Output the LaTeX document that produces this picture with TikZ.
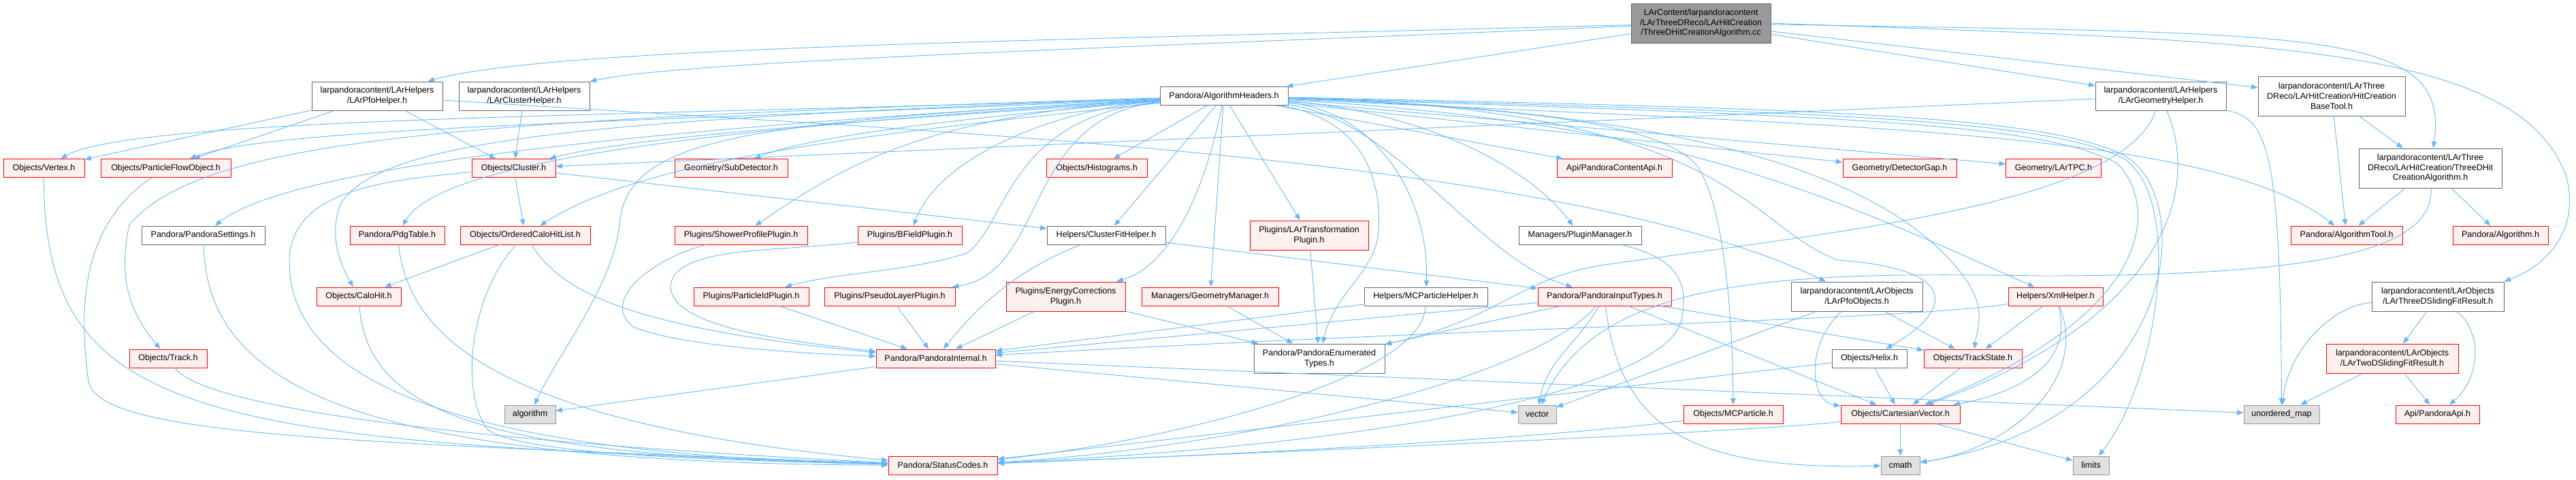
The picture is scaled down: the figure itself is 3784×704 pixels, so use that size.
\documentclass[tikz,border=0pt]{standalone}
\usepackage{fontspec}
\setmainfont{Liberation Sans}
\usetikzlibrary{arrows.meta}
\definecolor{incblue}{HTML}{63B8FF}
\definecolor{redfill}{HTML}{FFF0F0}

\begin{document}
\begin{tikzpicture}[x=1pt,y=-1pt]
\tikzset{filebox/.style={draw, rectangle, line width=1pt, inner sep=0pt, minimum height=27pt, align=center, font=\fontsize{12.5}{14.7}\selectfont}}
\tikzset{plainfile/.style={filebox, draw=black!60, fill=white}}
\tikzset{redfile/.style={filebox, draw=red, fill=redfill}}
\tikzset{sysfile/.style={filebox, draw=black!40, fill=black!12}}
\tikzset{srcfile/.style={filebox, draw=black!60, fill=black!40}}
\tikzset{inc/.style={draw=incblue, line width=0.9pt, -{Triangle[length=9.5pt,width=7.5pt]}}}
\useasboundingbox (0,0) rectangle (3784,704);
\node[srcfile, minimum width=205pt, minimum height=58pt] (src) at (2498.5,34) {LArContent/larpandoracontent\\/LArThreeDReco/LArHitCreation\\/ThreeDHitCreationAlgorithm.cc};
\node[plainfile, minimum width=192pt, minimum height=42pt] (pfoH) at (554,141) {larpandoracontent/LArHelpers\\/LArPfoHelper.h};
\node[plainfile, minimum width=192pt, minimum height=42pt] (clusH) at (770,141) {larpandoracontent/LArHelpers\\/LArClusterHelper.h};
\node[plainfile, minimum width=188pt] (algH) at (1798,141) {Pandora/AlgorithmHeaders.h};
\node[plainfile, minimum width=192pt, minimum height=42pt] (geoH) at (3174,141) {larpandoracontent/LArHelpers\\/LArGeometryHelper.h};
\node[plainfile, minimum width=216pt, minimum height=58pt] (hcbt) at (3425,141) {larpandoracontent/LArThree\\DReco/LArHitCreation/HitCreation\\BaseTool.h};
\node[redfile, minimum width=119pt] (vertex) at (64.5,247) {Objects/Vertex.h};
\node[redfile, minimum width=191pt] (pfo) at (243.5,247) {Objects/ParticleFlowObject.h};
\node[redfile, minimum width=123pt] (cluster) at (754.5,247) {Objects/Cluster.h};
\node[redfile, minimum width=166pt] (subdet) at (1074,247) {Geometry/SubDetector.h};
\node[redfile, minimum width=148pt] (histo) at (1611,247) {Objects/Histograms.h};
\node[redfile, minimum width=169pt] (contentApi) at (2371.5,247) {Api/PandoraContentApi.h};
\node[redfile, minimum width=167pt] (detgap) at (2790.5,247) {Geometry/DetectorGap.h};
\node[redfile, minimum width=140pt] (tpc) at (3016.5,247) {Geometry/LArTPC.h};
\node[plainfile, minimum width=210pt, minimum height=58pt] (tdhca) at (3570,247) {larpandoracontent/LArThree\\DReco/LArHitCreation/ThreeDHit\\CreationAlgorithm.h};
\node[plainfile, minimum width=181pt] (settings) at (298.5,345.5) {Pandora/PandoraSettings.h};
\node[redfile, minimum width=139pt] (pdg) at (583.5,345.5) {Pandora/PdgTable.h};
\node[redfile, minimum width=191pt] (ochl) at (771.5,345.5) {Objects/OrderedCaloHitList.h};
\node[redfile, minimum width=195pt] (shower) at (1088.5,345.5) {Plugins/ShowerProfilePlugin.h};
\node[redfile, minimum width=153pt] (bfield) at (1336.5,345.5) {Plugins/BFieldPlugin.h};
\node[plainfile, minimum width=174pt] (cfh) at (1625,345.5) {Helpers/ClusterFitHelper.h};
\node[redfile, minimum width=174pt, minimum height=43pt] (lartrans) at (1923,345.5) {Plugins/LArTransformation\\Plugin.h};
\node[plainfile, minimum width=180pt] (plugman) at (2321,345.5) {Managers/PluginManager.h};
\node[redfile, minimum width=164pt] (algtool) at (3447,345.5) {Pandora/AlgorithmTool.h};
\node[redfile, minimum width=140pt] (algo) at (3673,345.5) {Pandora/Algorithm.h};
\node[redfile, minimum width=124pt] (calohit) at (527,435.5) {Objects/CaloHit.h};
\node[redfile, minimum width=169pt] (pid) at (1103.5,435.5) {Plugins/ParticleIdPlugin.h};
\node[redfile, minimum width=192pt] (pseudo) at (1307,435.5) {Plugins/PseudoLayerPlugin.h};
\node[redfile, minimum width=175pt, minimum height=43pt] (ecorr) at (1565.5,435.5) {Plugins/EnergyCorrections\\Plugin.h};
\node[redfile, minimum width=201pt] (geoman) at (1777.5,435.5) {Managers/GeometryManager.h};
\node[plainfile, minimum width=181pt] (mcph) at (2094.5,435.5) {Helpers/MCParticleHelper.h};
\node[redfile, minimum width=196pt] (inputT) at (2357,435.5) {Pandora/PandoraInputTypes.h};
\node[plainfile, minimum width=193pt, minimum height=43pt] (pfoObj) at (2727.5,435.5) {larpandoracontent/LArObjects\\/LArPfoObjects.h};
\node[redfile, minimum width=139pt] (xml) at (3019.5,435.5) {Helpers/XmlHelper.h};
\node[plainfile, minimum width=194pt, minimum height=43pt] (tdsfr) at (3581,435.5) {larpandoracontent/LArObjects\\/LArThreeDSlidingFitResult.h};
\node[redfile, minimum width=114pt] (track) at (247,526.5) {Objects/Track.h};
\node[redfile, minimum width=175pt] (internal) at (1374.5,526.5) {Pandora/PandoraInternal.h};
\node[plainfile, minimum width=192pt, minimum height=43pt] (enumT) at (1938,526.5) {Pandora/PandoraEnumerated\\Types.h};
\node[plainfile, minimum width=110pt] (helix) at (2746,526.5) {Objects/Helix.h};
\node[redfile, minimum width=144pt] (trackstate) at (2898,526.5) {Objects/TrackState.h};
\node[redfile, minimum width=194pt, minimum height=43pt] (twoD) at (3514,526.5) {larpandoracontent/LArObjects\\/LArTwoDSlidingFitResult.h};
\node[sysfile, minimum width=75pt] (algorithm) at (778.5,608.5) {algorithm};
\node[sysfile, minimum width=56pt] (vector) at (2258,608.5) {vector};
\node[redfile, minimum width=146pt] (mcparticle) at (2546,608.5) {Objects/MCParticle.h};
\node[redfile, minimum width=175pt] (cartvec) at (2791.5,608.5) {Objects/CartesianVector.h};
\node[sysfile, minimum width=111pt] (umap) at (3351.5,608.5) {unordered\_map};
\node[redfile, minimum width=123pt] (pandoraApi) at (3580.5,608.5) {Api/PandoraApi.h};
\node[redfile, minimum width=160pt] (status) at (1385,683.5) {Pandora/StatusCodes.h};
\node[sysfile, minimum width=57pt] (cmath) at (2791.5,683.5) {cmath};
\node[sysfile, minimum width=53pt] (limits) at (3071.5,683.5) {limits};
\draw[inc] (src) .. controls (1500,60) and (800,70) .. (pfoH);
\draw[inc] (src) .. controls (1600,72) and (1000,90) .. (clusH);
\draw[inc] (src) -- (algH);
\draw[inc] (src) -- (geoH);
\draw[inc] (src) -- (hcbt);
\draw[inc] (src) .. controls (3400,50) and (3600,40) .. (tdhca);
\draw[inc] (src.east) .. controls (3300,60) and (3700,60) .. (3770,260) .. controls (3790,340) and (3740,390) .. (tdsfr.north east);
\draw[inc] (pfoH) -- (vertex);
\draw[inc] (pfoH) -- (pfo);
\draw[inc] (pfoH) -- (cluster);
\draw[inc] (pfoH) .. controls (1400,195) and (2300,230) .. (pfoObj);
\draw[inc] (clusH) -- (cluster);
\draw[inc] (algH) .. controls (1000,170) and (200,170) .. (vertex);
\draw[inc] (algH) .. controls (1000,178) and (400,185) .. (pfo);
\draw[inc] (algH) .. controls (1400,170) and (950,195) .. (cluster);
\draw[inc] (algH) .. controls (1500,165) and (1200,195) .. (subdet);
\draw[inc] (algH) -- (histo);
\draw[inc] (algH) .. controls (1000,185) and (430,240) .. (settings);
\draw[inc] (algH) .. controls (1100,185) and (650,230) .. (pdg);
\draw[inc] (algH) .. controls (1300,195) and (950,230) .. (ochl);
\draw[inc] (algH) .. controls (900,175) and (560,200) .. (500,300) .. controls (485,340) and (495,380) .. (calohit);
\draw[inc] (algH) .. controls (700,175) and (300,200) .. (190,330) .. controls (170,420) and (200,470) .. (track);
\draw[inc] (algH) .. controls (1350,170) and (1230,250) .. (shower);
\draw[inc] (algH) .. controls (1550,160) and (1380,230) .. (bfield);
\draw[inc] (algH) .. controls (1480,170) and (1480,330) .. (1420,372) .. controls (1330,400) and (1230,400) .. (pid);
\draw[inc] (algH) .. controls (1500,170) and (1540,400) .. (pseudo);
\draw[inc] (algH) .. controls (1100,180) and (920,200) .. (910,330) .. controls (900,420) and (820,520) .. (algorithm);
\draw[inc] (algH) -- (cfh);
\draw[inc] (algH) .. controls (1770,280) and (1720,390) .. (ecorr);
\draw[inc] (algH) -- (geoman);
\draw[inc] (algH) -- (lartrans);
\draw[inc] (algH) .. controls (2000,175) and (2030,260) .. (2025,340) .. controls (2020,400) and (1960,430) .. (enumT);
\draw[inc] (algH) .. controls (2030,165) and (2100,300) .. (mcph);
\draw[inc] (algH) .. controls (2050,175) and (2170,380) .. (inputT);
\draw[inc] (algH) .. controls (2100,165) and (2250,250) .. (plugman);
\draw[inc] (algH) -- (contentApi);
\draw[inc] (algH) .. controls (2300,160) and (2440,190) .. (2490,240) .. controls (2530,290) and (2545,450) .. (mcparticle);
\draw[inc] (algH) -- (detgap);
\draw[inc] (algH) -- (tpc);
\draw[inc] (algH) .. controls (2450,180) and (2650,270) .. (xml);
\draw[inc] (algH) .. controls (2550,160) and (2560,330) .. (2700,382) .. controls (2880,395) and (2870,455) .. (helix);
\draw[inc] (algH) .. controls (2600,165) and (2800,300) .. (2880,400) .. controls (2920,450) and (2905,480) .. (trackstate);
\draw[inc] (algH) .. controls (2700,170) and (3000,180) .. (3110,240) .. controls (3170,300) and (3170,460) .. (cartvec);
\draw[inc] (algH) .. controls (2700,160) and (3000,170) .. (3120,228) .. controls (3230,290) and (3200,620) .. (cmath);
\draw[inc] (algH) .. controls (2700,165) and (3000,175) .. (3118,232) .. controls (3210,290) and (3170,560) .. (limits);
\draw[inc] (algH) .. controls (2700,185) and (3250,190) .. (algtool);
\draw[inc] (geoH) -- (cluster);
\draw[inc] (geoH) .. controls (3120,300) and (2700,340) .. (2350,390) .. controls (2230,410) and (2200,470) .. (enumT);
\draw[inc] (geoH) .. controls (3240,300) and (3150,480) .. (cartvec);
\draw[inc] (geoH) .. controls (3330,175) and (3350,210) .. (umap);
\draw[inc] (hcbt) -- (algtool);
\draw[inc] (hcbt) -- (tdhca);
\draw[inc] (tdhca) -- (algtool);
\draw[inc] (tdhca) -- (algo);
\draw[inc] (tdhca) .. controls (3575,370) and (3400,405) .. (3000,405) .. controls (2650,400) and (2350,400) .. (vector);
\draw[inc] (tdsfr) .. controls (3420,450) and (3360,520) .. (umap);
\draw[inc] (tdsfr) -- (twoD);
\draw[inc] (tdsfr) .. controls (3650,490) and (3640,560) .. (pandoraApi);
\draw[inc] (twoD) -- (umap);
\draw[inc] (twoD) -- (pandoraApi);
\draw[inc] (cluster) -- (ochl);
\draw[inc] (cluster) -- (cfh);
\draw[inc] (cluster) .. controls (560,265) and (430,280) .. (425,380) .. controls (420,600) and (800,670) .. (status);
\draw[inc] (ochl) -- (calohit);
\draw[inc] (ochl) .. controls (820,420) and (900,480) .. (internal);
\draw[inc] (ochl) .. controls (700,420) and (670,560) .. (715,630) .. controls (760,665) and (1000,675) .. (status);
\draw[inc] (calohit) .. controls (540,620) and (750,670) .. (status);
\draw[inc] (vertex) .. controls (64,620) and (300,650) .. (status);
\draw[inc] (pfo) .. controls (120,330) and (115,450) .. (130,560) .. controls (145,640) and (500,650) .. (status);
\draw[inc] (track) .. controls (300,600) and (700,650) .. (status);
\draw[inc] (settings) .. controls (305,560) and (500,680) .. (status);
\draw[inc] (pdg) .. controls (600,480) and (700,620) .. (status);
\draw[inc] (shower) .. controls (960,380) and (880,440) .. (930,480) .. controls (1000,510) and (1200,520) .. (internal);
\draw[inc] (bfield) .. controls (1150,370) and (990,360) .. (985,420) .. controls (985,480) and (1150,500) .. (internal);
\draw[inc] (pid) -- (internal);
\draw[inc] (pseudo) -- (internal);
\draw[inc] (ecorr) -- (internal);
\draw[inc] (ecorr) -- (enumT);
\draw[inc] (cfh) .. controls (1480,400) and (1420,470) .. (internal);
\draw[inc] (cfh) -- (inputT);
\draw[inc] (geoman) -- (enumT);
\draw[inc] (lartrans) -- (enumT);
\draw[inc] (plugman) .. controls (2470,380) and (2480,420) .. (2470,470) .. controls (2450,560) and (2100,650) .. (status);
\draw[inc] (mcph) -- (internal);
\draw[inc] (mcph) .. controls (2090,560) and (1700,650) .. (status);
\draw[inc] (inputT) -- (internal);
\draw[inc] (inputT) -- (enumT);
\draw[inc] (inputT) to[out=-120,in=80] (vector);
\draw[inc] (inputT) .. controls (2250,560) and (1800,660) .. (status);
\draw[inc] (inputT) -- (cartvec);
\draw[inc] (inputT) -- (trackstate);
\draw[inc] (inputT) .. controls (2380,640) and (2500,690) .. (cmath);
\draw[inc] (internal) -- (algorithm);
\draw[inc] (internal) -- (vector);
\draw[inc] (internal) -- (umap);
\draw[inc] (pfoObj) .. controls (2650,510) and (2660,590) .. (cartvec);
\draw[inc] (pfoObj) -- (trackstate);
\draw[inc] (pfoObj) -- (vector);
\draw[inc] (xml) -- (trackstate);
\draw[inc] (xml) .. controls (3050,540) and (2950,580) .. (cartvec);
\draw[inc] (xml) .. controls (2800,470) and (2200,480) .. (internal);
\draw[inc] (xml) .. controls (3070,560) and (2950,660) .. (cmath);
\draw[inc] (helix) -- (cartvec);
\draw[inc] (helix) -- (status);
\draw[inc] (trackstate) -- (cartvec);
\draw[inc] (cartvec) -- (cmath);
\draw[inc] (cartvec) -- (limits);
\draw[inc] (cartvec) .. controls (2600,632) and (2000,660) .. (status);
\draw[inc] (mcparticle) .. controls (2300,640) and (1900,665) .. (status);
\end{tikzpicture}
\end{document}
